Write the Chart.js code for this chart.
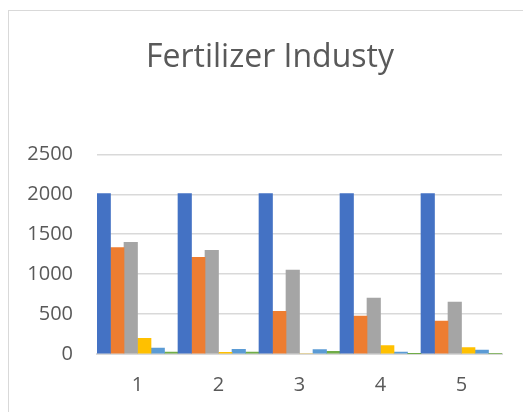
<!DOCTYPE html>
<html>
<head>
<meta charset="utf-8">
<script src="https://cdn.jsdelivr.net/npm/chart.js@4.4.1/dist/chart.umd.min.js"></script>
<style>
  html, body { margin: 0; padding: 0; background: #fff; overflow: hidden; }
  #wrap { position: relative; width: 523px; height: 412px; }
  #frame { position: absolute; left: 8px; top: 10px; width: 600px; height: 500px;
           border: 1px solid #d9d9d9; pointer-events: none; }
</style>
</head>
<body>
<div id="wrap">
  <div id="frame"></div>
  <canvas id="chart"></canvas>
</div>
<script>
// GRAF: Fertilizer Industy (Excel-stil søjlediagram)
const categories = ['1', '2', '3', '4', '5'];
const yTicks = [0, 500, 1000, 1500, 2000, 2500];

const series1 = [2010, 2010, 2010, 2010, 2010];
const series2 = [1334, 1212, 534, 475, 412];
const series3 = [1400, 1300, 1050, 700, 650];
const series4 = [196, 21, 0, 104, 79];
const series5 = [75, 59, 54, 25, 50];
const series6 = [25, 25, 34, 5, 8];

const seriesColors = ['#4472C4', '#ED7D31', '#A5A5A5', '#FFC000', '#5B9BD5', '#70AD47'];
const allSeries = [series1, series2, series3, series4, series5, series6];

// måler bredeste y-label, så de kan højrestilles med mirror (undgår clipping i venstre side)
const measureCtx = document.createElement('canvas').getContext('2d');
measureCtx.font = '20px "Open Sans"';
const widestLabel = Math.max(...yTicks.map(v => measureCtx.measureText(String(v)).width));

const ctx = document.querySelector('#chart');

new Chart(ctx, {
    type: 'bar',
    data: {
        labels: categories,
        datasets: allSeries.map((values, i) => ({
            label: 'Series' + (i + 1),
            data: values,
            backgroundColor: seriesColors[i],
            borderWidth: 0,
            categoryPercentage: 1.0, // ingen mellemrum mellem grupper
            barPercentage: 1.0
        }))
    },
    options: {
        responsive: true,
        maintainAspectRatio: false,
        animation: false,
        layout: {
            padding: { left: 38, right: 21, top: 10, bottom: 14 }
        },
        scales: {
            y: {
                min: 0,
                max: 2500,
                afterBuildTicks: (scale) => {
                    scale.ticks = yTicks.map(v => ({ value: v }));
                },
                afterFit: (scale) => { scale.width = 59; },
                border: { display: false },
                grid: { color: '#d9d9d9', lineWidth: 1.5, drawTicks: false },
                ticks: {
                    color: '#595959',
                    mirror: true,
                    crossAlign: 'far',
                    padding: -(24 + widestLabel),
                    font: { family: 'Open Sans', size: 20 },
                    callback: (value) => String(value) // ingen tusindtals-komma
                }
            },
            x: {
                afterFit: (scale) => { scale.height = 44; },
                border: { display: true, color: '#d9d9d9', width: 2 },
                grid: { display: false, drawTicks: false },
                ticks: {
                    color: '#595959',
                    padding: 19,
                    font: { family: 'Open Sans', size: 20 }
                }
            }
        },
        plugins: {
            legend: { display: false },
            tooltip: { enabled: false },
            title: {
                display: true,
                text: 'Fertilizer Industy',
                color: '#595959',
                font: { family: 'Open Sans', size: 32, weight: 'normal' },
                padding: { top: 29, bottom: 77 }
            }
        }
    }
});
</script>
</body>
</html>
